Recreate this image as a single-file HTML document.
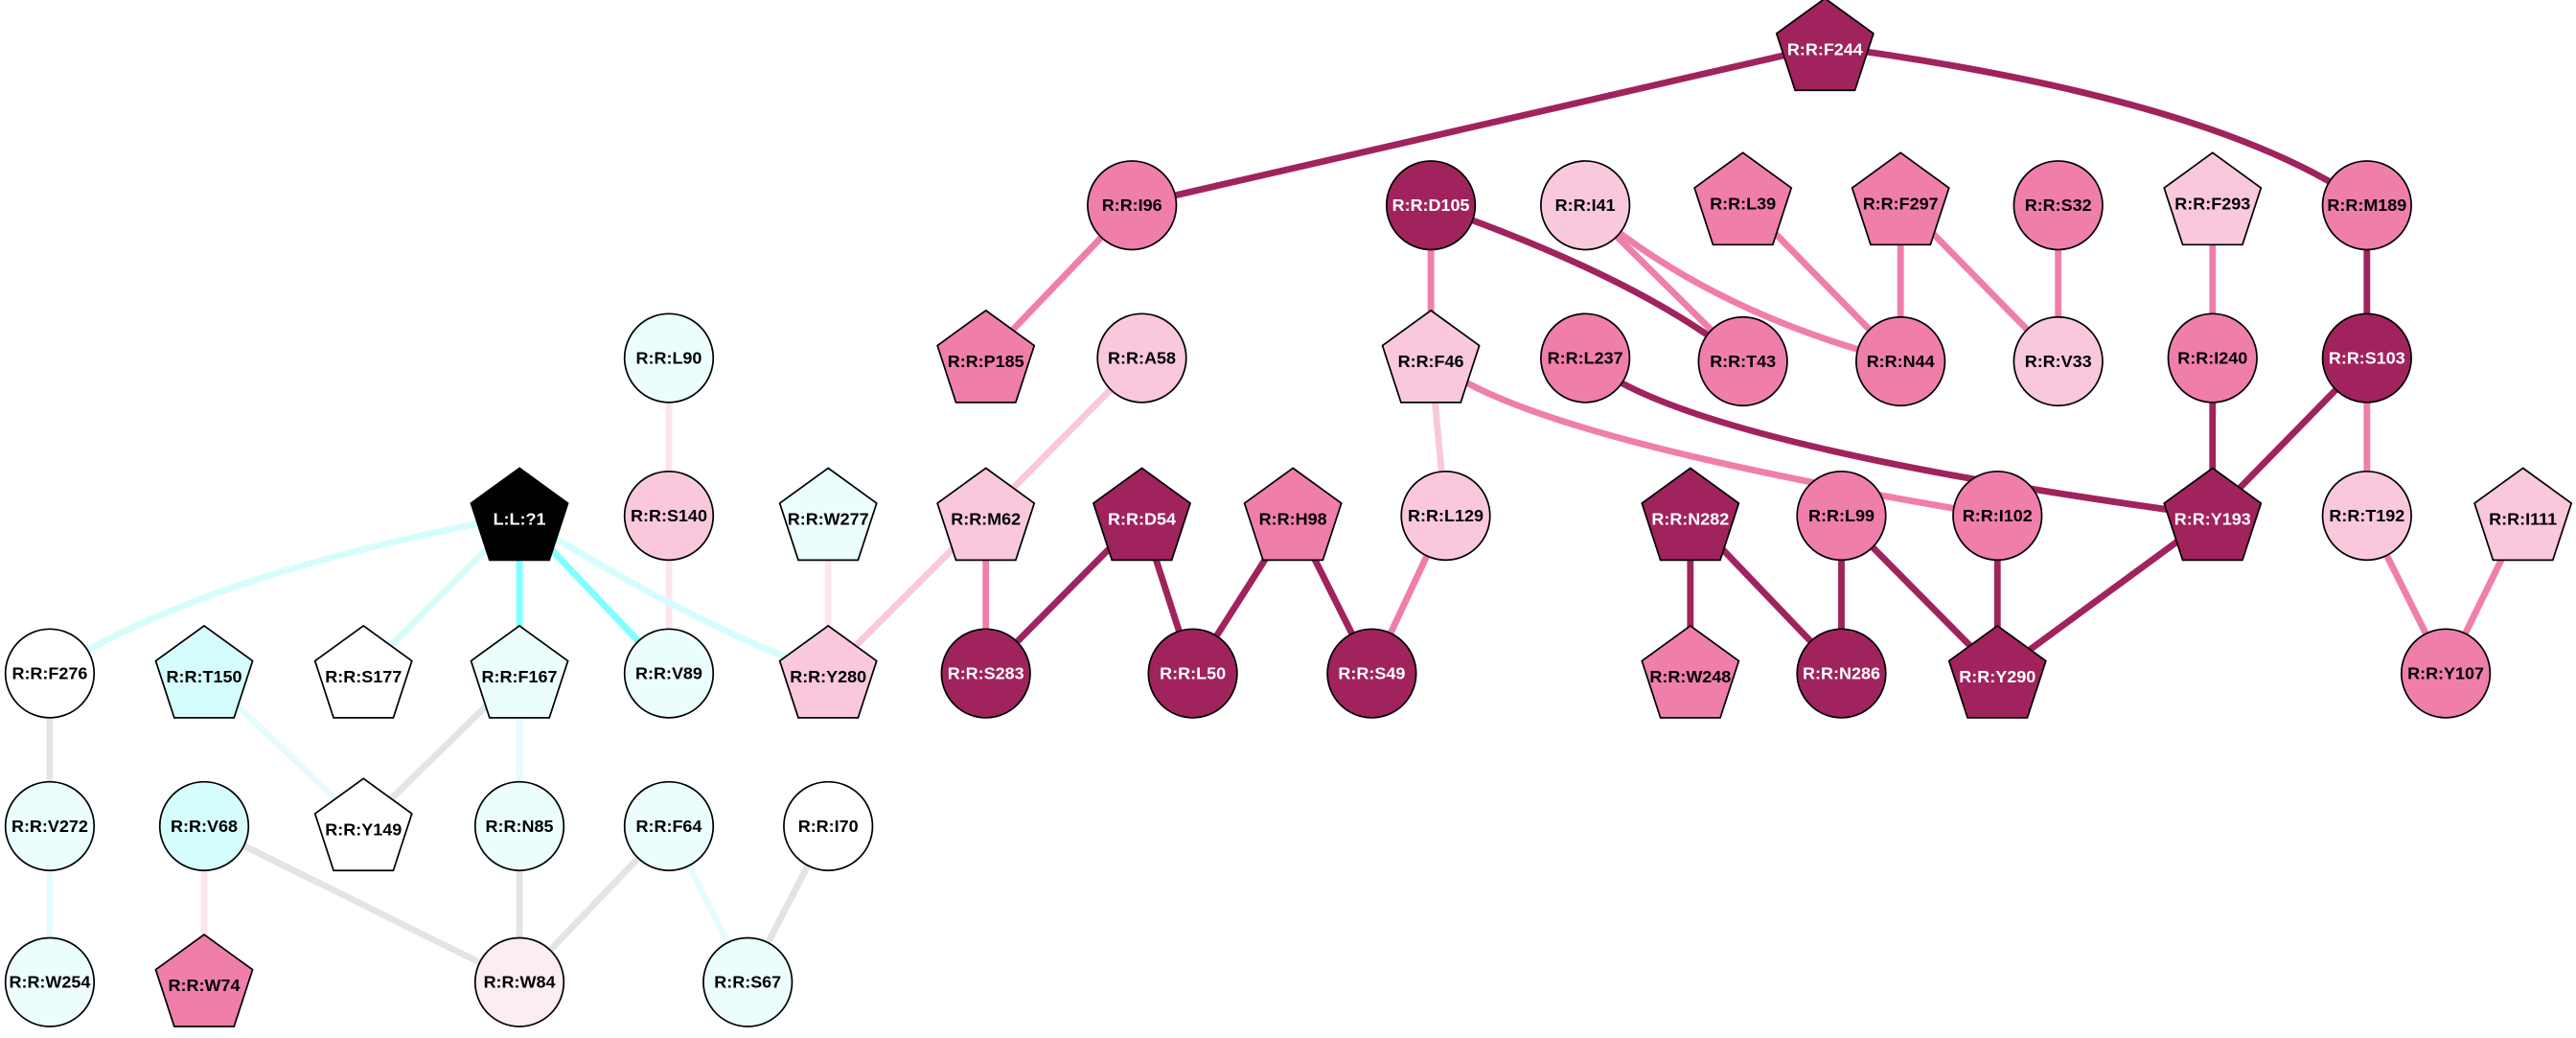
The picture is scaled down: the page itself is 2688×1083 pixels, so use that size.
<!DOCTYPE html>
<html><head><meta charset="utf-8"><style>
html,body{margin:0;padding:0;background:#fff;}
svg{display:block;}
text{font-family:"Liberation Sans",Arial,sans-serif;font-weight:bold;font-size:10.5px;text-anchor:middle;dominant-baseline:central;}
</style></head><body>
<svg width="2688" height="1083" viewBox="0 0 1568 632" xmlns="http://www.w3.org/2000/svg">
<g fill="none" stroke-width="4" stroke-linecap="round">
<!-- dark edges -->
<g stroke="#a0235e">
<path d="M1111,28 L689,125"/>
<path d="M1111,28 Q1350,60 1441,125"/>
<path d="M871,125 Q1000,170 1061,220"/>
<path d="M1441,125 L1441,218"/>
<path d="M1347,218 L1347,314"/>
<path d="M1441,218 L1347,314"/>
<path d="M965,218 Q1020,270 1347,314"/>
<path d="M695,314 L600,410"/><path d="M695,314 L726,410"/>
<path d="M787,314 L726,410"/><path d="M787,314 L835,410"/>
<path d="M1029,314 L1029,410"/><path d="M1029,314 L1121,410"/>
<path d="M1121,314 L1121,410"/><path d="M1121,314 L1216,410"/>
<path d="M1216,314 L1216,410"/>
<path d="M1347,314 L1216,410"/>
</g>
<!-- mid edges -->
<g stroke="#f07eaa">
<path d="M689,125 L600,218"/>
<path d="M871,125 L871,218"/>
<path d="M965,125 L1061,220"/>
<path d="M965,125 Q1040,190 1157,220"/>
<path d="M1061,122 L1157,220"/>
<path d="M1157,122 L1157,220"/>
<path d="M1157,122 L1253,220"/>
<path d="M1253,125 L1253,220"/>
<path d="M1347,122 L1347,218"/>
<path d="M1441,218 L1441,314"/>
<path d="M871,218 Q920,265 1216,314"/>
<path d="M600,314 L600,410"/>
<path d="M880,314 L835,410"/>
<path d="M1441,314 L1489,410"/>
<path d="M1536,314 L1489,410"/>
</g>
<!-- light pink edges -->
<g stroke="#f9c8dc">
<path d="M871,218 L880,314"/>
<path d="M695,218 L600,314"/>
<path d="M600,314 L504,410"/>
</g>
<g stroke="#fbe6ef">
<path d="M407,218 L407,314"/>
<path d="M407,314 L407,410"/>
<path d="M504,314 L504,410"/>
<path d="M124,503 L124,598"/>
</g>
<!-- cyan edges -->
<path d="M316,314 L316,410" stroke="#80ffff"/>
<path d="M316,314 L407,410" stroke="#80ffff"/>
<g stroke="#d6fdfd">
<path d="M316,314 Q120,350 30,410"/>
<path d="M316,314 L221,410"/>
<path d="M316,314 Q420,380 504,410"/>
</g>
<g stroke="#e6fcfc">
<path d="M124,410 L221,503"/>
<path d="M316,410 L316,503"/>
<path d="M30,503 L30,598"/>
<path d="M407,503 L455,598"/>
</g>
<g stroke="#e4e4e4">
<path d="M316,410 L221,503"/>
<path d="M30,410 L30,503"/>
<path d="M124,503 L316,598"/>
<path d="M316,503 L316,598"/>
<path d="M407,503 L316,598"/>
<path d="M504,503 L455,598"/>
</g>
</g>
<defs>
<polygon id="p" points="0,-31 29.5,-9.6 18.2,25 -18.2,25 -29.5,-9.6"/>
</defs>
<g stroke="#000" stroke-width="1">
<!-- circles -->
<circle cx="689" cy="125" r="27" fill="#f07eaa"/>
<circle cx="871" cy="125" r="27" fill="#a0235e"/>
<circle cx="965" cy="125" r="27" fill="#f9c8dc"/>
<circle cx="1253" cy="125" r="27" fill="#f07eaa"/>
<circle cx="1441" cy="125" r="27" fill="#f07eaa"/>
<circle cx="695" cy="218" r="27" fill="#f9c8dc"/>
<circle cx="965" cy="218" r="27" fill="#f07eaa"/>
<circle cx="1061" cy="220" r="27" fill="#f07eaa"/>
<circle cx="1157" cy="220" r="27" fill="#f07eaa"/>
<circle cx="1253" cy="220" r="27" fill="#f9c8dc"/>
<circle cx="1347" cy="218" r="27" fill="#f07eaa"/>
<circle cx="1441" cy="218" r="27" fill="#a0235e"/>
<circle cx="407" cy="218" r="27" fill="#ebfdfd"/>
<circle cx="407" cy="314" r="27" fill="#f9c8dc"/>
<circle cx="880" cy="314" r="27" fill="#f9c8dc"/>
<circle cx="1121" cy="314" r="27" fill="#f07eaa"/>
<circle cx="1216" cy="314" r="27" fill="#f07eaa"/>
<circle cx="1441" cy="314" r="27" fill="#f9c8dc"/>
<circle cx="30" cy="410" r="27" fill="#fff"/>
<circle cx="407" cy="410" r="27" fill="#ebfdfd"/>
<circle cx="600" cy="410" r="27" fill="#a0235e"/>
<circle cx="726" cy="410" r="27" fill="#a0235e"/>
<circle cx="835" cy="410" r="27" fill="#a0235e"/>
<circle cx="1121" cy="410" r="27" fill="#a0235e"/>
<circle cx="1489" cy="410" r="27" fill="#f07eaa"/>
<circle cx="30" cy="503" r="27" fill="#ebfdfd"/>
<circle cx="124" cy="503" r="27" fill="#d6fdfd"/>
<circle cx="316" cy="503" r="27" fill="#ebfdfd"/>
<circle cx="407" cy="503" r="27" fill="#ebfdfd"/>
<circle cx="504" cy="503" r="27" fill="#fff"/>
<circle cx="30" cy="598" r="27" fill="#ebfdfd"/>
<circle cx="316" cy="598" r="27" fill="#fcecf3"/>
<circle cx="455" cy="598" r="27" fill="#ebfdfd"/>
<!-- pentagons -->
<use href="#p" x="1111" y="30" fill="#a0235e"/>
<use href="#p" x="1061" y="124" fill="#f07eaa"/>
<use href="#p" x="1157" y="124" fill="#f07eaa"/>
<use href="#p" x="1347" y="124" fill="#f9c8dc"/>
<use href="#p" x="600" y="220" fill="#f07eaa"/>
<use href="#p" x="871" y="220" fill="#f9c8dc"/>
<use href="#p" x="316" y="316" fill="#000"/>
<use href="#p" x="504" y="316" fill="#ebfdfd"/>
<use href="#p" x="600" y="316" fill="#f9c8dc"/>
<use href="#p" x="695" y="316" fill="#a0235e"/>
<use href="#p" x="787" y="316" fill="#f07eaa"/>
<use href="#p" x="1029" y="316" fill="#a0235e"/>
<use href="#p" x="1347" y="316" fill="#a0235e"/>
<use href="#p" x="1536" y="316" fill="#f9c8dc"/>
<use href="#p" x="124" y="412" fill="#d6fdfd"/>
<use href="#p" x="221" y="412" fill="#fff"/>
<use href="#p" x="316" y="412" fill="#ebfdfd"/>
<use href="#p" x="504" y="412" fill="#f9c8dc"/>
<use href="#p" x="1029" y="412" fill="#f07eaa"/>
<use href="#p" x="1216" y="412" fill="#a0235e"/>
<use href="#p" x="221" y="505" fill="#fff"/>
<use href="#p" x="124" y="600" fill="#f07eaa"/>
</g>
<g fill="#000">
<text x="689" y="125">R:R:I96</text>
<text x="965" y="125">R:R:I41</text>
<text x="1253" y="125">R:R:S32</text>
<text x="1441" y="125">R:R:M189</text>
<text x="1061" y="124">R:R:L39</text>
<text x="1157" y="124">R:R:F297</text>
<text x="1347" y="124">R:R:F293</text>
<text x="600" y="220">R:R:P185</text>
<text x="695" y="218">R:R:A58</text>
<text x="871" y="220">R:R:F46</text>
<text x="965" y="218">R:R:L237</text>
<text x="1061" y="220">R:R:T43</text>
<text x="1157" y="220">R:R:N44</text>
<text x="1253" y="220">R:R:V33</text>
<text x="1347" y="218">R:R:I240</text>
<text x="407" y="218">R:R:L90</text>
<text x="407" y="314">R:R:S140</text>
<text x="504" y="316">R:R:W277</text>
<text x="600" y="316">R:R:M62</text>
<text x="787" y="316">R:R:H98</text>
<text x="880" y="314">R:R:L129</text>
<text x="1121" y="314">R:R:L99</text>
<text x="1216" y="314">R:R:I102</text>
<text x="1441" y="314">R:R:T192</text>
<text x="1536" y="316">R:R:I111</text>
<text x="30" y="410">R:R:F276</text>
<text x="124" y="412">R:R:T150</text>
<text x="221" y="412">R:R:S177</text>
<text x="316" y="412">R:R:F167</text>
<text x="407" y="410">R:R:V89</text>
<text x="504" y="412">R:R:Y280</text>
<text x="1029" y="412">R:R:W248</text>
<text x="1489" y="410">R:R:Y107</text>
<text x="30" y="503">R:R:V272</text>
<text x="124" y="503">R:R:V68</text>
<text x="221" y="505">R:R:Y149</text>
<text x="316" y="503">R:R:N85</text>
<text x="407" y="503">R:R:F64</text>
<text x="504" y="503">R:R:I70</text>
<text x="30" y="598">R:R:W254</text>
<text x="124" y="600">R:R:W74</text>
<text x="316" y="598">R:R:W84</text>
<text x="455" y="598">R:R:S67</text>
</g>
<g fill="#fff">
<text x="1111" y="30">R:R:F244</text>
<text x="871" y="125">R:R:D105</text>
<text x="1441" y="218">R:R:S103</text>
<text x="316" y="316">L:L:?1</text>
<text x="695" y="316">R:R:D54</text>
<text x="1029" y="316">R:R:N282</text>
<text x="1347" y="316">R:R:Y193</text>
<text x="600" y="410">R:R:S283</text>
<text x="726" y="410">R:R:L50</text>
<text x="835" y="410">R:R:S49</text>
<text x="1121" y="410">R:R:N286</text>
<text x="1216" y="412">R:R:Y290</text>
</g>
</svg>
</body></html>
